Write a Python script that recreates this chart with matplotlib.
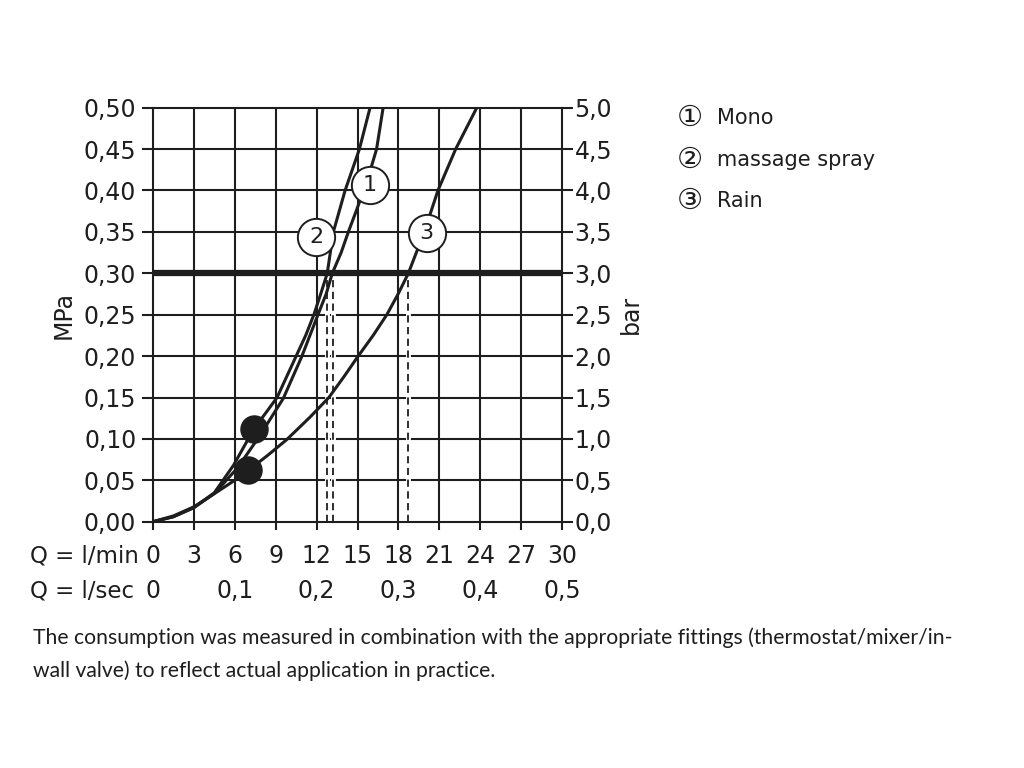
import matplotlib
matplotlib.use("Agg")
import matplotlib.pyplot as plt
from matplotlib import font_manager
from matplotlib.transforms import blended_transform_factory

# ---------------- data ----------------
mono_q = [0, 1.5, 3, 4.5, 6.2, 7.8, 9.56, 10.9, 12.1, 12.7, 13.15, 13.8, 14.33, 14.9, 15.45, 15.95, 16.4, 16.88]
mono_p = [0, 0.006, 0.017, 0.034, 0.065, 0.103, 0.149, 0.199, 0.25, 0.275, 0.30, 0.325, 0.35, 0.375, 0.40, 0.425, 0.45, 0.50]

massage_q = [0, 1.5, 3, 4.5, 5.9, 7.4, 8.3, 9.1, 9.8, 10.5, 11.2, 11.8, 12.3, 12.78, 13.23, 14.09, 15.14, 15.92]
massage_p = [0, 0.006, 0.017, 0.035, 0.068, 0.112, 0.132, 0.150, 0.175, 0.200, 0.225, 0.250, 0.275, 0.300, 0.350, 0.400, 0.450, 0.500]

rain_q = [0, 1.5, 3.0, 4.7, 5.9, 7.0, 8.4, 9.8, 11.5, 12.9, 14.0, 15.05, 16.15, 17.15, 17.98, 18.73, 19.9, 20.9, 22.2, 23.75]
rain_p = [0, 0.007, 0.018, 0.036, 0.049, 0.062, 0.080, 0.099, 0.126, 0.150, 0.175, 0.200, 0.225, 0.250, 0.275, 0.300, 0.350, 0.400, 0.450, 0.500]

dot_q = [7.4, 7.0]
dot_p = [0.112, 0.062]

label_q = [15.9, 11.96, 20.08]
label_p = [0.407, 0.3435, 0.349]
label_txt = ["1", "2", "3"]

drop_q = [12.74, 13.23, 18.73]
ref_pressure = 0.30

qmin_ticks = [0, 3, 6, 9, 12, 15, 18, 21, 24, 27, 30]
qmin_labels = ["0", "3", "6", "9", "12", "15", "18", "21", "24", "27", "30"]
qsec_pos = [0, 6, 12, 18, 24, 30]
qsec_labels = ["0", "0,1", "0,2", "0,3", "0,4", "0,5"]
mpa_ticks = [0, 0.05, 0.10, 0.15, 0.20, 0.25, 0.30, 0.35, 0.40, 0.45, 0.50]
mpa_labels = ["0,00", "0,05", "0,10", "0,15", "0,20", "0,25", "0,30", "0,35", "0,40", "0,45", "0,50"]
bar_ticks = [0, 0.5, 1.0, 1.5, 2.0, 2.5, 3.0, 3.5, 4.0, 4.5, 5.0]
bar_labels = ["0,0", "0,5", "1,0", "1,5", "2,0", "2,5", "3,0", "3,5", "4,0", "4,5", "5,0"]

legend_marks = ["\u2460", "\u2461", "\u2462"]
legend_names = ["Mono", "massage spray", "Rain"]
footnote = ["The consumption was measured in combination with the appropriate fittings (thermostat/mixer/in-",
            "wall valve) to reflect actual application in practice."]

# ---------------- style ----------------
names = {f.name for f in font_manager.fontManager.ttflist}
main_font = ["DejaVu Sans"]
foot_font = ["Lato", "DejaVu Sans"] if "Lato" in names else ["DejaVu Sans"]
plt.rcParams['font.family'] = main_font
K = "#1e1e1e"
FS = 17

fig = plt.figure(figsize=(10.24, 7.68), dpi=100)
W, H = 1024, 768
L, R, T, B = 153, 562, 107.7, 521.7
ax = fig.add_axes([L / W, 1 - B / H, (R - L) / W, (B - T) / H])
ax.set_xlim(0, 30)
ax.set_ylim(0, 0.5)

for q in qmin_ticks[1:-1]:
    ax.axvline(q, color=K, lw=1.5, zorder=1)
for p in mpa_ticks[1:-1]:
    ax.axhline(p, color=K, lw=1.5, zorder=1)
for s in ax.spines.values():
    s.set_linewidth(1.5)
    s.set_color(K)

ax.axhline(ref_pressure, color=K, lw=4.5, zorder=3)

for q in drop_q:
    ax.plot([q, q], [0, ref_pressure], color="white", lw=3.5, zorder=2, solid_capstyle="butt")
    ax.plot([q, q], [0, ref_pressure], color=K, lw=1.3, ls=(0, (4, 2.5)), zorder=2.5)

for qq, pp in [(mono_q, mono_p), (massage_q, massage_p), (rain_q, rain_p)]:
    ax.plot(qq, pp, color=K, lw=2.2, zorder=4, solid_capstyle="round", solid_joinstyle="round")

ax.scatter(dot_q, dot_p, s=380, color=K, zorder=5)
ax.scatter(label_q, label_p, s=720, facecolor="white", edgecolor=K, linewidth=1.4, zorder=6)
for q, p, t in zip(label_q, label_p, label_txt):
    ax.text(q, p, t, ha="center", va="center", fontsize=16, color=K, zorder=7)

ax.set_yticks(mpa_ticks)
ax.set_yticklabels(mpa_labels)
ax.set_xticks(qmin_ticks)
ax.set_xticklabels(qmin_labels)
ax.tick_params(axis="y", direction="out", length=8, width=1.5, colors=K, labelsize=FS, pad=4)
ax.tick_params(axis="x", direction="out", length=6, width=1.5, colors=K, labelsize=FS, pad=10)

ax2 = ax.twinx()
ax2.set_ylim(0, 5)
ax2.set_yticks(bar_ticks)
ax2.set_yticklabels(bar_labels)
ax2.tick_params(axis="y", direction="out", length=8, width=1.5, colors=K, labelsize=FS, pad=1)
for s in ax2.spines.values():
    s.set_visible(False)

ax.set_ylabel("MPa", fontsize=FS, color=K, labelpad=6)
ax2.set_ylabel("bar", fontsize=FS, color=K, rotation=90, labelpad=5)

trans = blended_transform_factory(ax.transData, fig.transFigure)
for q, t in zip(qsec_pos, qsec_labels):
    ax.text(q, 1 - 591 / H, t, transform=trans, ha="center", va="center", fontsize=FS, color=K)
fig.text(30 / W, 1 - 556 / H, "Q = l/min", ha="left", va="center", fontsize=16.5, color=K)
fig.text(30 / W, 1 - 591 / H, "Q = l/sec", ha="left", va="center", fontsize=16.5, color=K)

for i, (m, n) in enumerate(zip(legend_marks, legend_names)):
    y = 1 - (118 + 41.5 * i) / H
    fig.text(690 / W, y, m, ha="center", va="center", fontsize=21, color=K)
    fig.text(717 / W, y, n, ha="left", va="center", fontsize=15, color=K)

fig.text(33 / W, 1 - 638 / H, footnote[0], fontsize=15.2, ha="left", va="center", color=K, family=foot_font)
fig.text(33 / W, 1 - 671 / H, footnote[1], fontsize=15.2, ha="left", va="center", color=K, family=foot_font)

fig.savefig("out.png", dpi=100, facecolor="white")
